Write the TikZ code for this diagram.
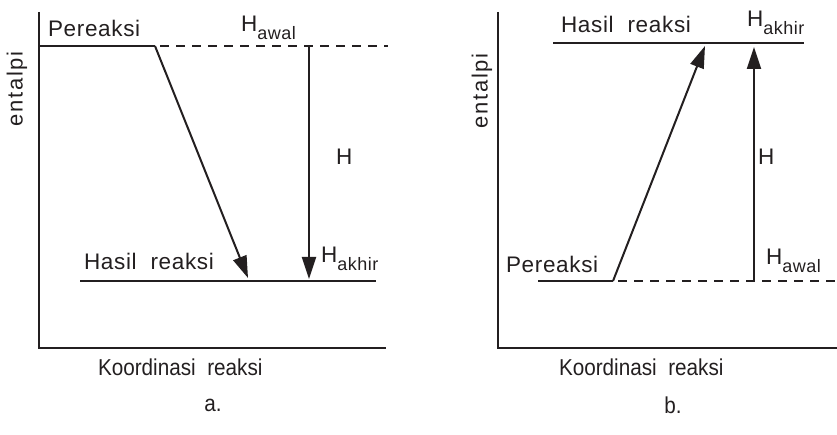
\documentclass[tikz,border=0pt]{standalone}
\usepackage{fontspec}
\setmainfont{Liberation Sans}
\newfontfamily\lbfont[LetterSpace=3]{Liberation Sans}
\newfontfamily\axfont[FakeStretch=0.9]{Liberation Sans}
\newfontfamily\entfont[LetterSpace=8]{Liberation Sans}
\usetikzlibrary{arrows.meta}
\definecolor{ink}{RGB}{35,31,32}
\newcommand\Hsub[1]{H\raisebox{-8pt}{\fontsize{18}{18}\selectfont #1}}
\begin{document}
\begin{tikzpicture}[x=1pt,y=-1pt,line width=2pt,color=ink,
  lbl/.style={font=\lbfont\fontsize{22.5}{22.5}\selectfont,inner sep=0pt,anchor=base west},
  ax/.style={font=\axfont\fontsize{23}{23}\selectfont,inner sep=0pt,anchor=base west},
  ent/.style={font=\entfont\fontsize{22}{22}\selectfont,inner sep=0pt,rotate=90},
  pcap/.style={font=\axfont\fontsize{23}{23}\selectfont,inner sep=0pt},
  dsh/.style={dash pattern=on 9pt off 7pt},
  arr/.style={-{Triangle[length=22pt,width=14pt]}}]
\useasboundingbox (0,0) rectangle (837,435);
% ---------- panel a ----------
\coordinate (aTop) at (39,12);
\coordinate (aRight) at (386,348);
\coordinate (aP0) at (39,46);
\coordinate (aP1) at (155,46);
\coordinate (aD0) at (160,46);
\coordinate (aD1) at (388,46);
\coordinate (aHs0) at (80,281);
\coordinate (aHs1) at (376,281);
\coordinate (aTip) at (248,278);
\coordinate (aV0) at (309,46);
\coordinate (aV1) at (309,279);
\draw (aTop) |- (aRight);
\draw (aP0) -- (aP1);
\draw[dsh] (aD0) -- (aD1);
\draw (aHs0) -- (aHs1);
\draw[arr] (aP1) -- (aTip);
\draw[arr] (aV0) -- (aV1);
\node[lbl] (aPer) at (47,37) {Pereaksi};
\node[lbl] (aHaw) at (240,32) {\Hsub{awal}};
\node[lbl] (aHas) at (83,270) {Hasil\ \ reaksi};
\node[lbl] (aHak) at (320,263) {\Hsub{akhir}};
\node[lbl] (aH) at (335,165) {H};
\node[ent] (aEnt) at (17,89) {entalpi};
\node[ax] (aKo) at (97,375) {Koordinasi\ \ reaksi};
\node[pcap] (aCap) at (213,405) {a.};
% ---------- panel b ----------
\coordinate (bTop) at (498,12);
\coordinate (bRight) at (840,348);
\coordinate (bHs0) at (553,43);
\coordinate (bHs1) at (804,43);
\coordinate (bP0) at (538,281);
\coordinate (bP1) at (613,281);
\coordinate (bD0) at (618,281);
\coordinate (bD1) at (840,281);
\coordinate (bTip) at (705,46);
\coordinate (bV0) at (754,281);
\coordinate (bV1) at (754,47);
\draw (bTop) |- (bRight);
\draw (bHs0) -- (bHs1);
\draw (bP0) -- (bP1);
\draw[dsh] (bD0) -- (bD1);
\draw[arr] (bP1) -- (bTip);
\draw[arr] (bV0) -- (bV1);
\node[lbl] (bHas) at (560,33) {Hasil\ \ reaksi};
\node[lbl] (bHak) at (746,27) {\Hsub{akhir}};
\node[lbl] (bPer) at (505,273) {Pereaksi};
\node[lbl] (bHaw) at (765,265) {\Hsub{awal}};
\node[lbl] (bH) at (757,165) {H};
\node[ent] (bEnt) at (482,91) {entalpi};
\node[ax] (bKo) at (558,375) {Koordinasi\ \ reaksi};
\node[pcap] (bCap) at (673,405) {b.};
\end{tikzpicture}
\end{document}
